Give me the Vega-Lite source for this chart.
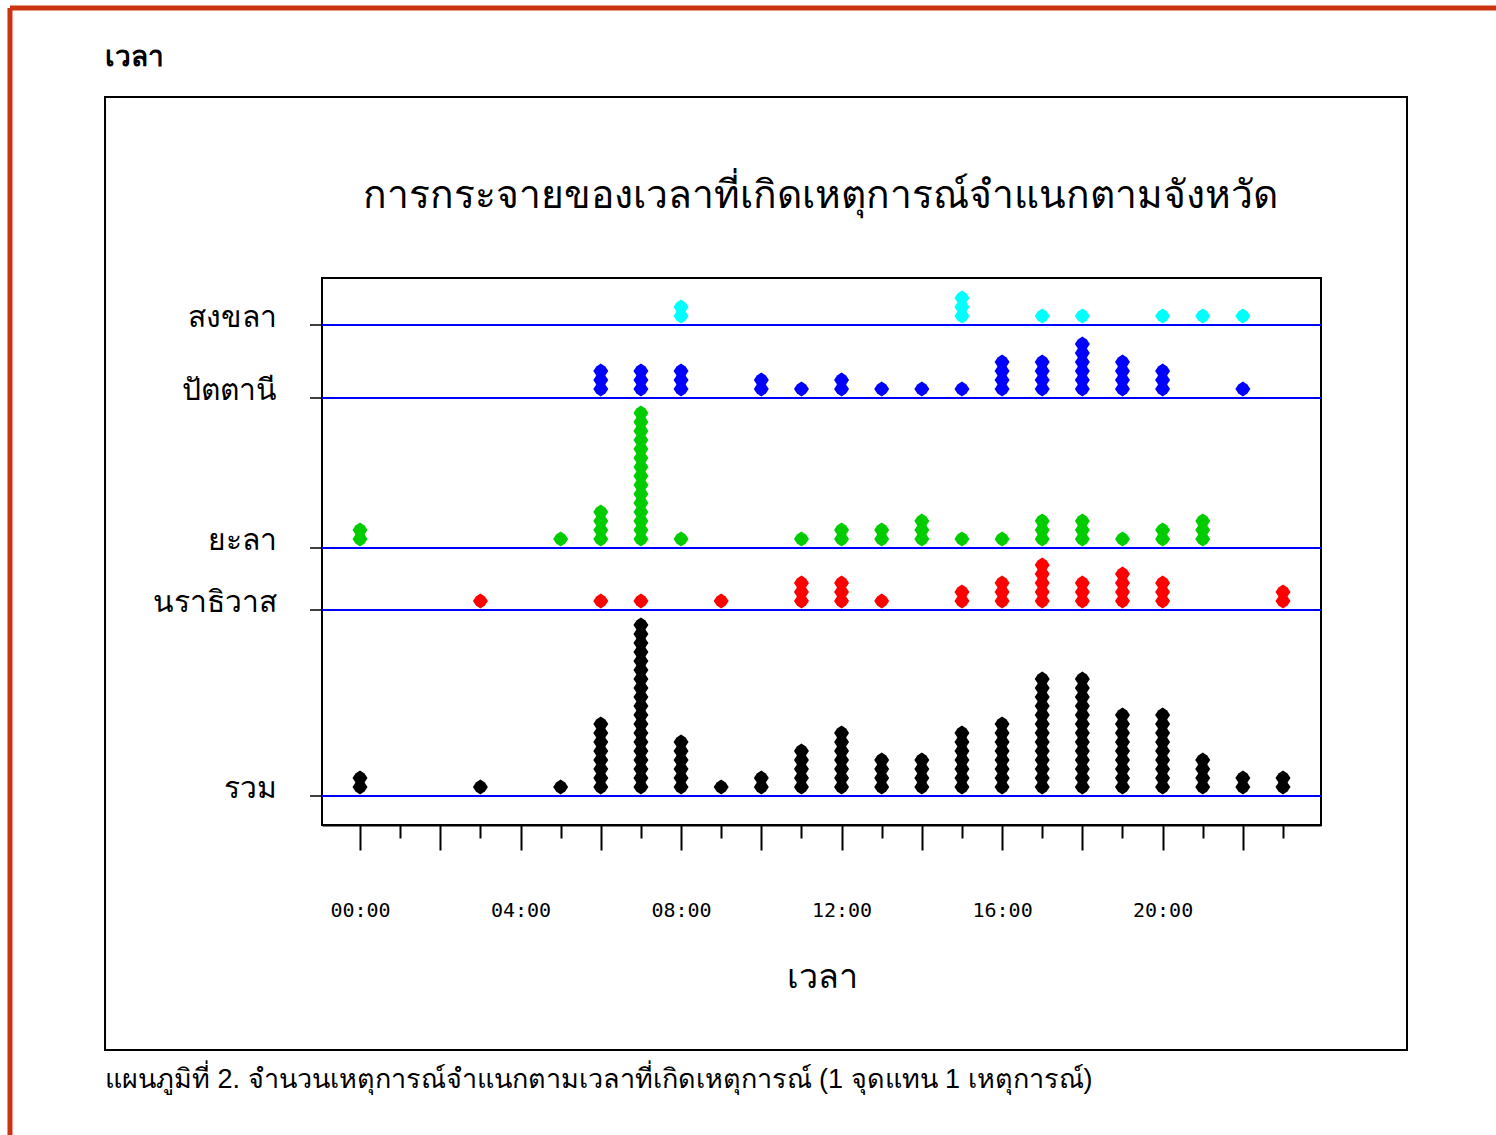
{
  "$schema": "https://vega.github.io/schema/vega-lite/v6.json",
  "width": 999,
  "height": 547,
  "autosize": "none",
  "padding": {"left": 322, "top": 278, "right": 175, "bottom": 310},
  "background": "white",
  "config": {"view": {"stroke": "black", "strokeWidth": 2}},
  "datasets": {
    "ev": [
      {"h":8,"p":"สงขลา"},{"h":8,"p":"สงขลา"},{"h":15,"p":"สงขลา"},{"h":15,"p":"สงขลา"},{"h":15,"p":"สงขลา"},{"h":17,"p":"สงขลา"},{"h":18,"p":"สงขลา"},{"h":20,"p":"สงขลา"},{"h":21,"p":"สงขลา"},{"h":22,"p":"สงขลา"},
      {"h":6,"p":"ปัตตานี"},{"h":6,"p":"ปัตตานี"},{"h":6,"p":"ปัตตานี"},{"h":7,"p":"ปัตตานี"},{"h":7,"p":"ปัตตานี"},{"h":7,"p":"ปัตตานี"},{"h":8,"p":"ปัตตานี"},{"h":8,"p":"ปัตตานี"},{"h":8,"p":"ปัตตานี"},{"h":10,"p":"ปัตตานี"},{"h":10,"p":"ปัตตานี"},{"h":11,"p":"ปัตตานี"},{"h":12,"p":"ปัตตานี"},{"h":12,"p":"ปัตตานี"},{"h":13,"p":"ปัตตานี"},{"h":14,"p":"ปัตตานี"},{"h":15,"p":"ปัตตานี"},{"h":16,"p":"ปัตตานี"},{"h":16,"p":"ปัตตานี"},{"h":16,"p":"ปัตตานี"},{"h":16,"p":"ปัตตานี"},{"h":17,"p":"ปัตตานี"},{"h":17,"p":"ปัตตานี"},{"h":17,"p":"ปัตตานี"},{"h":17,"p":"ปัตตานี"},{"h":18,"p":"ปัตตานี"},{"h":18,"p":"ปัตตานี"},{"h":18,"p":"ปัตตานี"},{"h":18,"p":"ปัตตานี"},{"h":18,"p":"ปัตตานี"},{"h":18,"p":"ปัตตานี"},{"h":19,"p":"ปัตตานี"},{"h":19,"p":"ปัตตานี"},{"h":19,"p":"ปัตตานี"},{"h":19,"p":"ปัตตานี"},{"h":20,"p":"ปัตตานี"},{"h":20,"p":"ปัตตานี"},{"h":20,"p":"ปัตตานี"},{"h":22,"p":"ปัตตานี"},
      {"h":0,"p":"ยะลา"},{"h":0,"p":"ยะลา"},{"h":5,"p":"ยะลา"},{"h":6,"p":"ยะลา"},{"h":6,"p":"ยะลา"},{"h":6,"p":"ยะลา"},{"h":6,"p":"ยะลา"},{"h":7,"p":"ยะลา"},{"h":7,"p":"ยะลา"},{"h":7,"p":"ยะลา"},{"h":7,"p":"ยะลา"},{"h":7,"p":"ยะลา"},{"h":7,"p":"ยะลา"},{"h":7,"p":"ยะลา"},{"h":7,"p":"ยะลา"},{"h":7,"p":"ยะลา"},{"h":7,"p":"ยะลา"},{"h":7,"p":"ยะลา"},{"h":7,"p":"ยะลา"},{"h":7,"p":"ยะลา"},{"h":7,"p":"ยะลา"},{"h":7,"p":"ยะลา"},{"h":8,"p":"ยะลา"},{"h":11,"p":"ยะลา"},{"h":12,"p":"ยะลา"},{"h":12,"p":"ยะลา"},{"h":13,"p":"ยะลา"},{"h":13,"p":"ยะลา"},{"h":14,"p":"ยะลา"},{"h":14,"p":"ยะลา"},{"h":14,"p":"ยะลา"},{"h":15,"p":"ยะลา"},{"h":16,"p":"ยะลา"},{"h":17,"p":"ยะลา"},{"h":17,"p":"ยะลา"},{"h":17,"p":"ยะลา"},{"h":18,"p":"ยะลา"},{"h":18,"p":"ยะลา"},{"h":18,"p":"ยะลา"},{"h":19,"p":"ยะลา"},{"h":20,"p":"ยะลา"},{"h":20,"p":"ยะลา"},{"h":21,"p":"ยะลา"},{"h":21,"p":"ยะลา"},{"h":21,"p":"ยะลา"},
      {"h":3,"p":"นราธิวาส"},{"h":6,"p":"นราธิวาส"},{"h":7,"p":"นราธิวาส"},{"h":9,"p":"นราธิวาส"},{"h":11,"p":"นราธิวาส"},{"h":11,"p":"นราธิวาส"},{"h":11,"p":"นราธิวาส"},{"h":12,"p":"นราธิวาส"},{"h":12,"p":"นราธิวาส"},{"h":12,"p":"นราธิวาส"},{"h":13,"p":"นราธิวาส"},{"h":15,"p":"นราธิวาส"},{"h":15,"p":"นราธิวาส"},{"h":16,"p":"นราธิวาส"},{"h":16,"p":"นราธิวาส"},{"h":16,"p":"นราธิวาส"},{"h":17,"p":"นราธิวาส"},{"h":17,"p":"นราธิวาส"},{"h":17,"p":"นราธิวาส"},{"h":17,"p":"นราธิวาส"},{"h":17,"p":"นราธิวาส"},{"h":18,"p":"นราธิวาส"},{"h":18,"p":"นราธิวาส"},{"h":18,"p":"นราธิวาส"},{"h":19,"p":"นราธิวาส"},{"h":19,"p":"นราธิวาส"},{"h":19,"p":"นราธิวาส"},{"h":19,"p":"นราธิวาส"},{"h":20,"p":"นราธิวาส"},{"h":20,"p":"นราธิวาส"},{"h":20,"p":"นราธิวาส"},{"h":23,"p":"นราธิวาส"},{"h":23,"p":"นราธิวาส"}
    ]
  },
  "data": {"name": "ev"},
  "layer": [
    {"transform": [{"window": [{"op": "row_number", "as": "k"}], "groupby": ["h"]}], "mark": {"type": "point", "shape": "M-1,0L-0.6,-0.6L0,-1L0.6,-0.6L1,0L0.6,0.6L0,1L-0.6,0.6Z", "filled": true, "size": 225, "color": "#000000", "opacity": 1},
     "encoding": {
       "x": {"field": "h", "type": "quantitative", "title": "เวลา", "scale": {"domain": [-0.947, 23.947], "nice": false, "zero": false},
             "axis": {"title": "เวลา", "values": [0,1,2,3,4,5,6,7,8,9,10,11,12,13,14,15,16,17,18,19,20,21,22,23], "grid": false, "domain": true, "ticks": true, "labels": true, "domainColor": "black", "domainWidth": 2, "tickColor": "black", "tickWidth": 2, "tickSize": 25, "tickDash": {"condition": {"test": "datum.value % 2 === 1", "value": [13, 40]}, "value": [40, 0]}, "labelExpr": "datum.value % 4 === 0 ? (datum.value < 10 ? '0' : '') + datum.value + ':00' : ''", "labelOverlap": false, "labelFont": "DejaVu Sans Mono", "labelFontSize": 20, "labelColor": "black", "labelPadding": 50, "titleFontSize": 34, "titleFontWeight": "normal", "titleColor": "black", "titlePadding": 40}},
       "y": {"field": "k", "type": "quantitative", "axis": null, "scale": {"domain": [-3.222, 57.556], "nice": false, "zero": false}}}},

    {"transform": [{"filter": "datum.p === 'สงขลา'"}, {"window": [{"op": "row_number", "as": "k"}], "groupby": ["h"]}], "mark": {"type": "point", "shape": "M-1,0L-0.6,-0.6L0,-1L0.6,-0.6L1,0L0.6,0.6L0,1L-0.6,0.6Z", "filled": true, "size": 225, "color": "#00FFFF", "opacity": 1}, "encoding": {"x": {"field": "h", "type": "quantitative", "title": "เวลา"}, "y": {"field": "k", "type": "quantitative", "axis": null, "scale": {"domain": [-55.556, 5.222], "nice": false, "zero": false}}}},
    {"transform": [{"filter": "datum.p === 'ปัตตานี'"}, {"window": [{"op": "row_number", "as": "k"}], "groupby": ["h"]}], "mark": {"type": "point", "shape": "M-1,0L-0.6,-0.6L0,-1L0.6,-0.6L1,0L0.6,0.6L0,1L-0.6,0.6Z", "filled": true, "size": 225, "color": "#0000FF", "opacity": 1}, "encoding": {"x": {"field": "h", "type": "quantitative", "title": "เวลา"}, "y": {"field": "k", "type": "quantitative", "axis": null, "scale": {"domain": [-47.444, 13.333], "nice": false, "zero": false}}}},
    {"transform": [{"filter": "datum.p === 'ยะลา'"}, {"window": [{"op": "row_number", "as": "k"}], "groupby": ["h"]}], "mark": {"type": "point", "shape": "M-1,0L-0.6,-0.6L0,-1L0.6,-0.6L1,0L0.6,0.6L0,1L-0.6,0.6Z", "filled": true, "size": 225, "color": "#00CC00", "opacity": 1}, "encoding": {"x": {"field": "h", "type": "quantitative", "title": "เวลา"}, "y": {"field": "k", "type": "quantitative", "axis": null, "scale": {"domain": [-30.778, 30], "nice": false, "zero": false}}}},
    {"transform": [{"filter": "datum.p === 'นราธิวาส'"}, {"window": [{"op": "row_number", "as": "k"}], "groupby": ["h"]}], "mark": {"type": "point", "shape": "M-1,0L-0.6,-0.6L0,-1L0.6,-0.6L1,0L0.6,0.6L0,1L-0.6,0.6Z", "filled": true, "size": 225, "color": "#FF0000", "opacity": 1}, "encoding": {"x": {"field": "h", "type": "quantitative", "title": "เวลา"}, "y": {"field": "k", "type": "quantitative", "axis": null, "scale": {"domain": [-23.889, 36.889], "nice": false, "zero": false}}}},

    {"data": {"values": [{"p": "สงขลา"}]}, "mark": {"type": "rule", "color": "#0000FF", "strokeWidth": 2}, "encoding": {"x": {"datum": -0.947, "type": "quantitative"}, "x2": {"datum": 23.947}, "y": {"datum": 0, "type": "quantitative", "axis": null, "scale": {"domain": [-55.556, 5.222], "nice": false, "zero": false}}}},
    {"data": {"values": [{"p": "ปัตตานี"}]}, "mark": {"type": "rule", "color": "#0000FF", "strokeWidth": 2}, "encoding": {"x": {"datum": -0.947, "type": "quantitative"}, "x2": {"datum": 23.947}, "y": {"datum": 0, "type": "quantitative", "axis": null, "scale": {"domain": [-47.444, 13.333], "nice": false, "zero": false}}}},
    {"data": {"values": [{"p": "ยะลา"}]}, "mark": {"type": "rule", "color": "#0000FF", "strokeWidth": 2}, "encoding": {"x": {"datum": -0.947, "type": "quantitative"}, "x2": {"datum": 23.947}, "y": {"datum": 0, "type": "quantitative", "axis": null, "scale": {"domain": [-30.778, 30], "nice": false, "zero": false}}}},
    {"data": {"values": [{"p": "นราธิวาส"}]}, "mark": {"type": "rule", "color": "#0000FF", "strokeWidth": 2}, "encoding": {"x": {"datum": -0.947, "type": "quantitative"}, "x2": {"datum": 23.947}, "y": {"datum": 0, "type": "quantitative", "axis": null, "scale": {"domain": [-23.889, 36.889], "nice": false, "zero": false}}}},
    {"data": {"values": [{"p": "รวม"}]}, "mark": {"type": "rule", "color": "#0000FF", "strokeWidth": 2}, "encoding": {"x": {"datum": -0.947, "type": "quantitative"}, "x2": {"datum": 23.947}, "y": {"datum": 0, "type": "quantitative", "axis": null, "scale": {"domain": [-3.222, 57.556], "nice": false, "zero": false}}}},

    {"data": {"values": [{"p": "สงขลา"}]}, "mark": {"type": "rule", "color": "black", "strokeWidth": 1.5}, "encoding": {"x": {"datum": -1.246, "type": "quantitative"}, "x2": {"datum": -0.947}, "y": {"datum": 0, "type": "quantitative", "axis": null, "scale": {"domain": [-55.556, 5.222], "nice": false, "zero": false}}}},
    {"data": {"values": [{"p": "ปัตตานี"}]}, "mark": {"type": "rule", "color": "black", "strokeWidth": 1.5}, "encoding": {"x": {"datum": -1.246, "type": "quantitative"}, "x2": {"datum": -0.947}, "y": {"datum": 0, "type": "quantitative", "axis": null, "scale": {"domain": [-47.444, 13.333], "nice": false, "zero": false}}}},
    {"data": {"values": [{"p": "ยะลา"}]}, "mark": {"type": "rule", "color": "black", "strokeWidth": 1.5}, "encoding": {"x": {"datum": -1.246, "type": "quantitative"}, "x2": {"datum": -0.947}, "y": {"datum": 0, "type": "quantitative", "axis": null, "scale": {"domain": [-30.778, 30], "nice": false, "zero": false}}}},
    {"data": {"values": [{"p": "นราธิวาส"}]}, "mark": {"type": "rule", "color": "black", "strokeWidth": 1.5}, "encoding": {"x": {"datum": -1.246, "type": "quantitative"}, "x2": {"datum": -0.947}, "y": {"datum": 0, "type": "quantitative", "axis": null, "scale": {"domain": [-23.889, 36.889], "nice": false, "zero": false}}}},
    {"data": {"values": [{"p": "รวม"}]}, "mark": {"type": "rule", "color": "black", "strokeWidth": 1.5}, "encoding": {"x": {"datum": -1.246, "type": "quantitative"}, "x2": {"datum": -0.947}, "y": {"datum": 0, "type": "quantitative", "axis": null, "scale": {"domain": [-3.222, 57.556], "nice": false, "zero": false}}}},

    {"data": {"values": [{"p": "สงขลา"}]}, "mark": {"type": "text", "align": "right", "baseline": "alphabetic", "dy": 2, "fontSize": 30, "color": "black"}, "encoding": {"text": {"field": "p"}, "x": {"datum": -2.068, "type": "quantitative"}, "y": {"datum": 0, "type": "quantitative", "axis": null, "scale": {"domain": [-55.556, 5.222], "nice": false, "zero": false}}}},
    {"data": {"values": [{"p": "ปัตตานี"}]}, "mark": {"type": "text", "align": "right", "baseline": "alphabetic", "dy": 2, "fontSize": 30, "color": "black"}, "encoding": {"text": {"field": "p"}, "x": {"datum": -2.068, "type": "quantitative"}, "y": {"datum": 0, "type": "quantitative", "axis": null, "scale": {"domain": [-47.444, 13.333], "nice": false, "zero": false}}}},
    {"data": {"values": [{"p": "ยะลา"}]}, "mark": {"type": "text", "align": "right", "baseline": "alphabetic", "dy": 2, "fontSize": 30, "color": "black"}, "encoding": {"text": {"field": "p"}, "x": {"datum": -2.068, "type": "quantitative"}, "y": {"datum": 0, "type": "quantitative", "axis": null, "scale": {"domain": [-30.778, 30], "nice": false, "zero": false}}}},
    {"data": {"values": [{"p": "นราธิวาส"}]}, "mark": {"type": "text", "align": "right", "baseline": "alphabetic", "dy": 2, "fontSize": 30, "color": "black"}, "encoding": {"text": {"field": "p"}, "x": {"datum": -2.068, "type": "quantitative"}, "y": {"datum": 0, "type": "quantitative", "axis": null, "scale": {"domain": [-23.889, 36.889], "nice": false, "zero": false}}}},
    {"data": {"values": [{"p": "รวม"}]}, "mark": {"type": "text", "align": "right", "baseline": "alphabetic", "dy": 2, "fontSize": 30, "color": "black"}, "encoding": {"text": {"field": "p"}, "x": {"datum": -2.068, "type": "quantitative"}, "y": {"datum": 0, "type": "quantitative", "axis": null, "scale": {"domain": [-3.222, 57.556], "nice": false, "zero": false}}}},

    {"data": {"values": [{}]}, "mark": {"type": "rect", "fillOpacity": 0, "stroke": "black", "strokeWidth": 2}, "encoding": {"x": {"datum": -6.354, "type": "quantitative"}, "x2": {"datum": 26.09}, "y": {"datum": 77.667, "type": "quantitative", "axis": null, "scale": {"domain": [-3.222, 57.556], "nice": false, "zero": false}}, "y2": {"datum": -28.222}}},
    {"data": {"values": [{}]}, "mark": {"type": "rule", "color": "#CC3311", "strokeWidth": 5}, "encoding": {"x": {"datum": -8.722, "type": "quantitative"}, "x2": {"datum": 28.31}, "y": {"datum": 87.556, "type": "quantitative", "axis": null, "scale": {"domain": [-3.222, 57.556], "nice": false, "zero": false}}}},
    {"data": {"values": [{}]}, "mark": {"type": "rule", "color": "#CC3311", "strokeWidth": 5}, "encoding": {"x": {"datum": -8.722, "type": "quantitative"}, "y": {"datum": 87.556, "type": "quantitative", "axis": null, "scale": {"domain": [-3.222, 57.556], "nice": false, "zero": false}}, "y2": {"datum": -37.67}}},
    {"data": {"values": [{"t": "เวลา"}]}, "mark": {"type": "text", "align": "left", "baseline": "alphabetic", "fontSize": 28, "fontWeight": "bold", "color": "black"}, "encoding": {"text": {"field": "t"}, "x": {"datum": -6.354, "type": "quantitative"}, "y": {"datum": 81.11, "type": "quantitative", "axis": null, "scale": {"domain": [-3.222, 57.556], "nice": false, "zero": false}}}},
    {"data": {"values": [{"t": "การกระจายของเวลาที่เกิดเหตุการณ์จำแนกตามจังหวัด"}]}, "mark": {"type": "text", "align": "center", "baseline": "alphabetic", "fontSize": 39, "color": "black"}, "encoding": {"text": {"field": "t"}, "x": {"datum": 11.487, "type": "quantitative"}, "y": {"datum": 65.33, "type": "quantitative", "axis": null, "scale": {"domain": [-3.222, 57.556], "nice": false, "zero": false}}}},
    {"data": {"values": [{"t": "แผนภูมิที่ 2. จำนวนเหตุการณ์จำแนกตามเวลาที่เกิดเหตุการณ์ (1 จุดแทน 1 เหตุการณ์)"}]}, "mark": {"type": "text", "align": "left", "baseline": "alphabetic", "fontSize": 27, "color": "black"}, "encoding": {"text": {"field": "t"}, "x": {"datum": -6.354, "type": "quantitative"}, "y": {"datum": -32.44, "type": "quantitative", "axis": null, "scale": {"domain": [-3.222, 57.556], "nice": false, "zero": false}}}}
  ],
  "resolve": {"scale": {"y": "independent"}}
}
